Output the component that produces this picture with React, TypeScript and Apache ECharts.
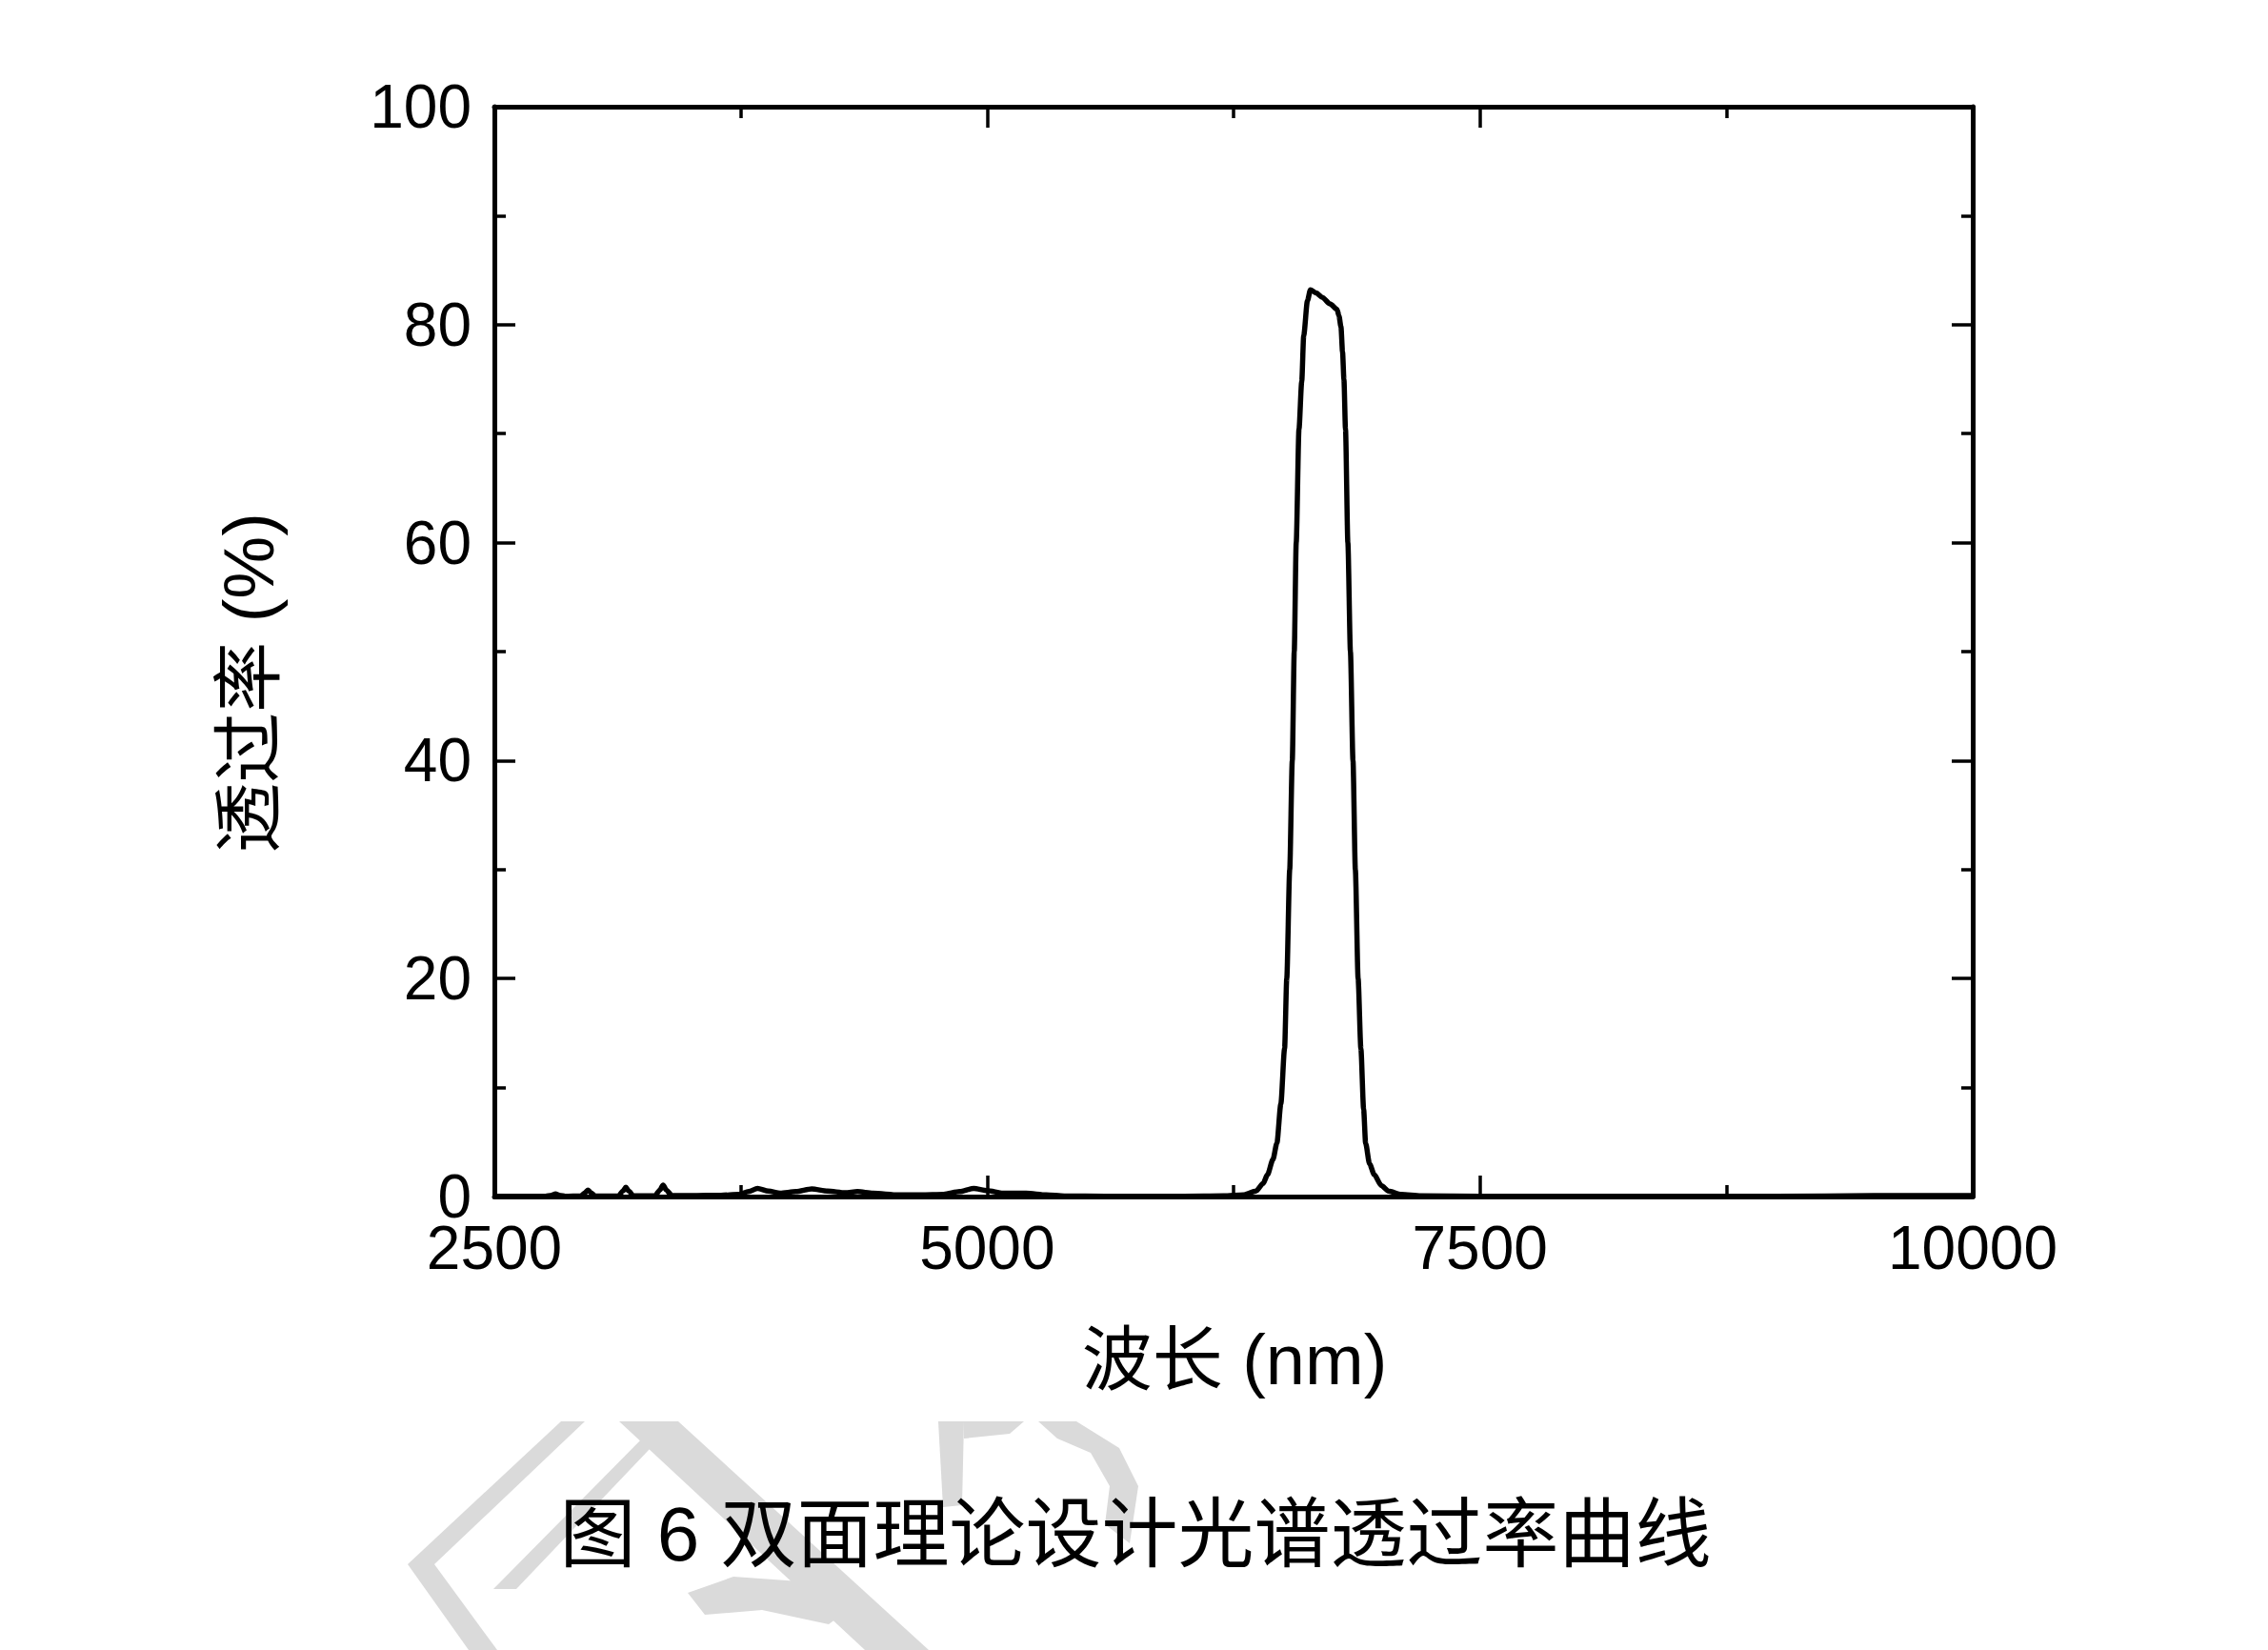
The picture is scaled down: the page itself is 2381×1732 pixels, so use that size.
import React, { useEffect, useRef } from "react";
import * as echarts from "echarts";

const wavelengths = [
  2500, 2760, 2790, 2810, 2830, 2860, 2940, 2960, 2974, 2990, 3010, 3130, 3152, 3167, 3182, 3205,
  3315, 3340, 3356, 3372, 3400, 3500, 3650, 3740, 3790, 3835, 3890, 3950, 4030, 4110, 4190, 4280,
  4342, 4420, 4550, 4666, 4780, 4860, 4932, 5000, 5080, 5198, 5300, 5392, 5600, 6000, 6200, 6300,
  6364, 6400, 6422, 6450, 6470, 6490, 6509, 6520, 6535, 6548, 6558, 6568, 6582, 6596, 6606, 6625,
  6640, 6670, 6700, 6740, 6775, 6785, 6795, 6803, 6810, 6818, 6830, 6843, 6856, 6868, 6882, 6896,
  6910, 6920, 6940, 6964, 7000, 7036, 7100, 7200, 7500, 9000, 9500, 10000,
];
const transmittance = [
  0.02, 0.02, 0.12, 0.25, 0.12, 0.02, 0.05, 0.35, 0.6, 0.35, 0.05, 0.05, 0.5, 0.85, 0.5, 0.06,
  0.08, 0.6, 1.05, 0.6, 0.1, 0.08, 0.12, 0.2, 0.45, 0.75, 0.5, 0.3, 0.45, 0.7, 0.5, 0.35,
  0.45, 0.3, 0.15, 0.15, 0.2, 0.45, 0.75, 0.55, 0.3, 0.3, 0.15, 0.05, 0.02, 0.02, 0.06, 0.15,
  0.5, 1.2, 2.0, 3.4, 4.9, 8.5, 13.6, 20, 30, 40, 50, 60, 70.4, 74.8, 79, 82.2,
  83.2, 82.9, 82.5, 81.9, 81.4, 80.8, 79.8, 77.5, 75, 70.4, 60, 50, 40, 30, 20, 13.6,
  8, 4.9, 3.0, 2.0, 1.0, 0.5, 0.2, 0.06, 0.02, 0.02, 0.08, 0.08,
];
const xTicks = [2500, 5000, 7500, 10000];
const yTicks = [0, 20, 40, 60, 80, 100];
const xTitle = "波长 (nm)";
const yTitle = "透过率 (%)";
const caption = "图 6 双面理论设计光谱透过率曲线";

const LATIN = "'Liberation Sans', Arial, 'Noto Sans CJK SC', sans-serif";
const CJK = "'Liberation Sans', 'Noto Sans CJK SC', sans-serif";
const WM = "#dadada";

export default function App() {
  const ref = useRef<HTMLDivElement>(null);
  useEffect(() => {
    if (!ref.current) return;
    const chart = echarts.init(ref.current, undefined, { renderer: "svg" });
    const data = wavelengths.map((w, i) => [w, transmittance[i]]);
    const xMin = xTicks[0];
    const xMax = xTicks[xTicks.length - 1];
    const xInt = xTicks[1] - xTicks[0];
    const yMin = yTicks[0];
    const yMax = yTicks[yTicks.length - 1];
    const yInt = yTicks[1] - yTicks[0];
    const lineCol = "#000";
    const axisCommon = {
      axisLine: { show: true, onZero: false, lineStyle: { color: lineCol, width: 5 } },
      axisTick: { show: true, inside: true, length: 22, lineStyle: { color: lineCol, width: 3.5 } },
      minorTick: { show: true, splitNumber: 2, length: 12, lineStyle: { color: lineCol, width: 3.5 } },
      splitLine: { show: false },
      minorSplitLine: { show: false },
    };
    const fmt = (v: number) => String(v);
    chart.setOption({
      animation: false,
      backgroundColor: "#fff",
      grid: { left: 519, top: 112, width: 1552, height: 1144, containLabel: false },
      xAxis: [
        {
          type: "value", min: xMin, max: xMax, interval: xInt, position: "bottom",
          ...axisCommon,
          axisLabel: { fontSize: 64, lineHeight: 50, color: "#000", fontFamily: LATIN, margin: 29, formatter: fmt },
        },
        {
          type: "value", min: xMin, max: xMax, interval: xInt, position: "top",
          ...axisCommon,
          axisLabel: { show: false },
        },
      ],
      yAxis: [
        {
          type: "value", min: yMin, max: yMax, interval: yInt, position: "left",
          ...axisCommon,
          axisLabel: { fontSize: 64, lineHeight: 50, color: "#000", fontFamily: LATIN, margin: 24, formatter: fmt },
        },
        {
          type: "value", min: yMin, max: yMax, interval: yInt, position: "right",
          ...axisCommon,
          axisLabel: { show: false },
        },
      ],
      series: [
        {
          type: "line",
          data,
          xAxisIndex: 0,
          yAxisIndex: 0,
          showSymbol: false,
          smooth: 0.25,
          smoothMonotone: "x",
          lineStyle: { color: "#000", width: 5.5 },
          z: 3,
        },
      ],
      graphic: [
        // watermark
        { type: "polygon", z: 0, shape: { points: [[589, 1492], [614, 1492], [456, 1642], [428, 1642]] }, style: { fill: WM } },
        { type: "polygon", z: 0, shape: { points: [[428, 1642], [456, 1642], [522, 1732], [492, 1732]] }, style: { fill: WM } },
        { type: "polygon", z: 0, shape: { points: [[650, 1492], [712, 1492], [975, 1732], [908, 1732]] }, style: { fill: WM } },
        { type: "polygon", z: 0, shape: { points: [[684, 1500], [702, 1500], [542, 1668], [518, 1668]] }, style: { fill: WM } },
        { type: "polygon", z: 0, shape: { points: [[722, 1672], [770, 1655], [840, 1660], [890, 1690], [870, 1705], [800, 1690], [740, 1695]] }, style: { fill: WM } },
        { type: "polygon", z: 0, shape: { points: [[985, 1492], [1012, 1492], [1010, 1580], [990, 1582]] }, style: { fill: WM } },
        { type: "polygon", z: 0, shape: { points: [[1012, 1492], [1075, 1492], [1060, 1505], [1012, 1510]] }, style: { fill: WM } },
        { type: "polygon", z: 0, shape: { points: [[1090, 1492], [1130, 1492], [1175, 1520], [1195, 1560], [1186, 1620], [1160, 1600], [1165, 1560], [1145, 1525], [1110, 1510]] }, style: { fill: WM } },
        {
          type: "text", x: 1296, y: 1427, z: 10,
          style: { text: xTitle, fontSize: 74, fontFamily: CJK, fill: "#000", align: "center", verticalAlign: "middle" },
        },
        {
          type: "text", x: 261, y: 717, rotation: Math.PI / 2, z: 10,
          style: { text: yTitle, fontSize: 74, fontFamily: CJK, fill: "#000", align: "center", verticalAlign: "middle" },
        },
        {
          type: "text", x: 1192, y: 1610, z: 10,
          style: { text: caption, fontSize: 80, fontFamily: CJK, fill: "#000", align: "center", verticalAlign: "middle" },
        },
      ],
    });
    return () => chart.dispose();
  }, []);
  return (
    <div
      ref={ref}
      style={{ position: "fixed", left: 0, top: 0, width: 2381, height: 1732, background: "#fff" }}
    />
  );
}
